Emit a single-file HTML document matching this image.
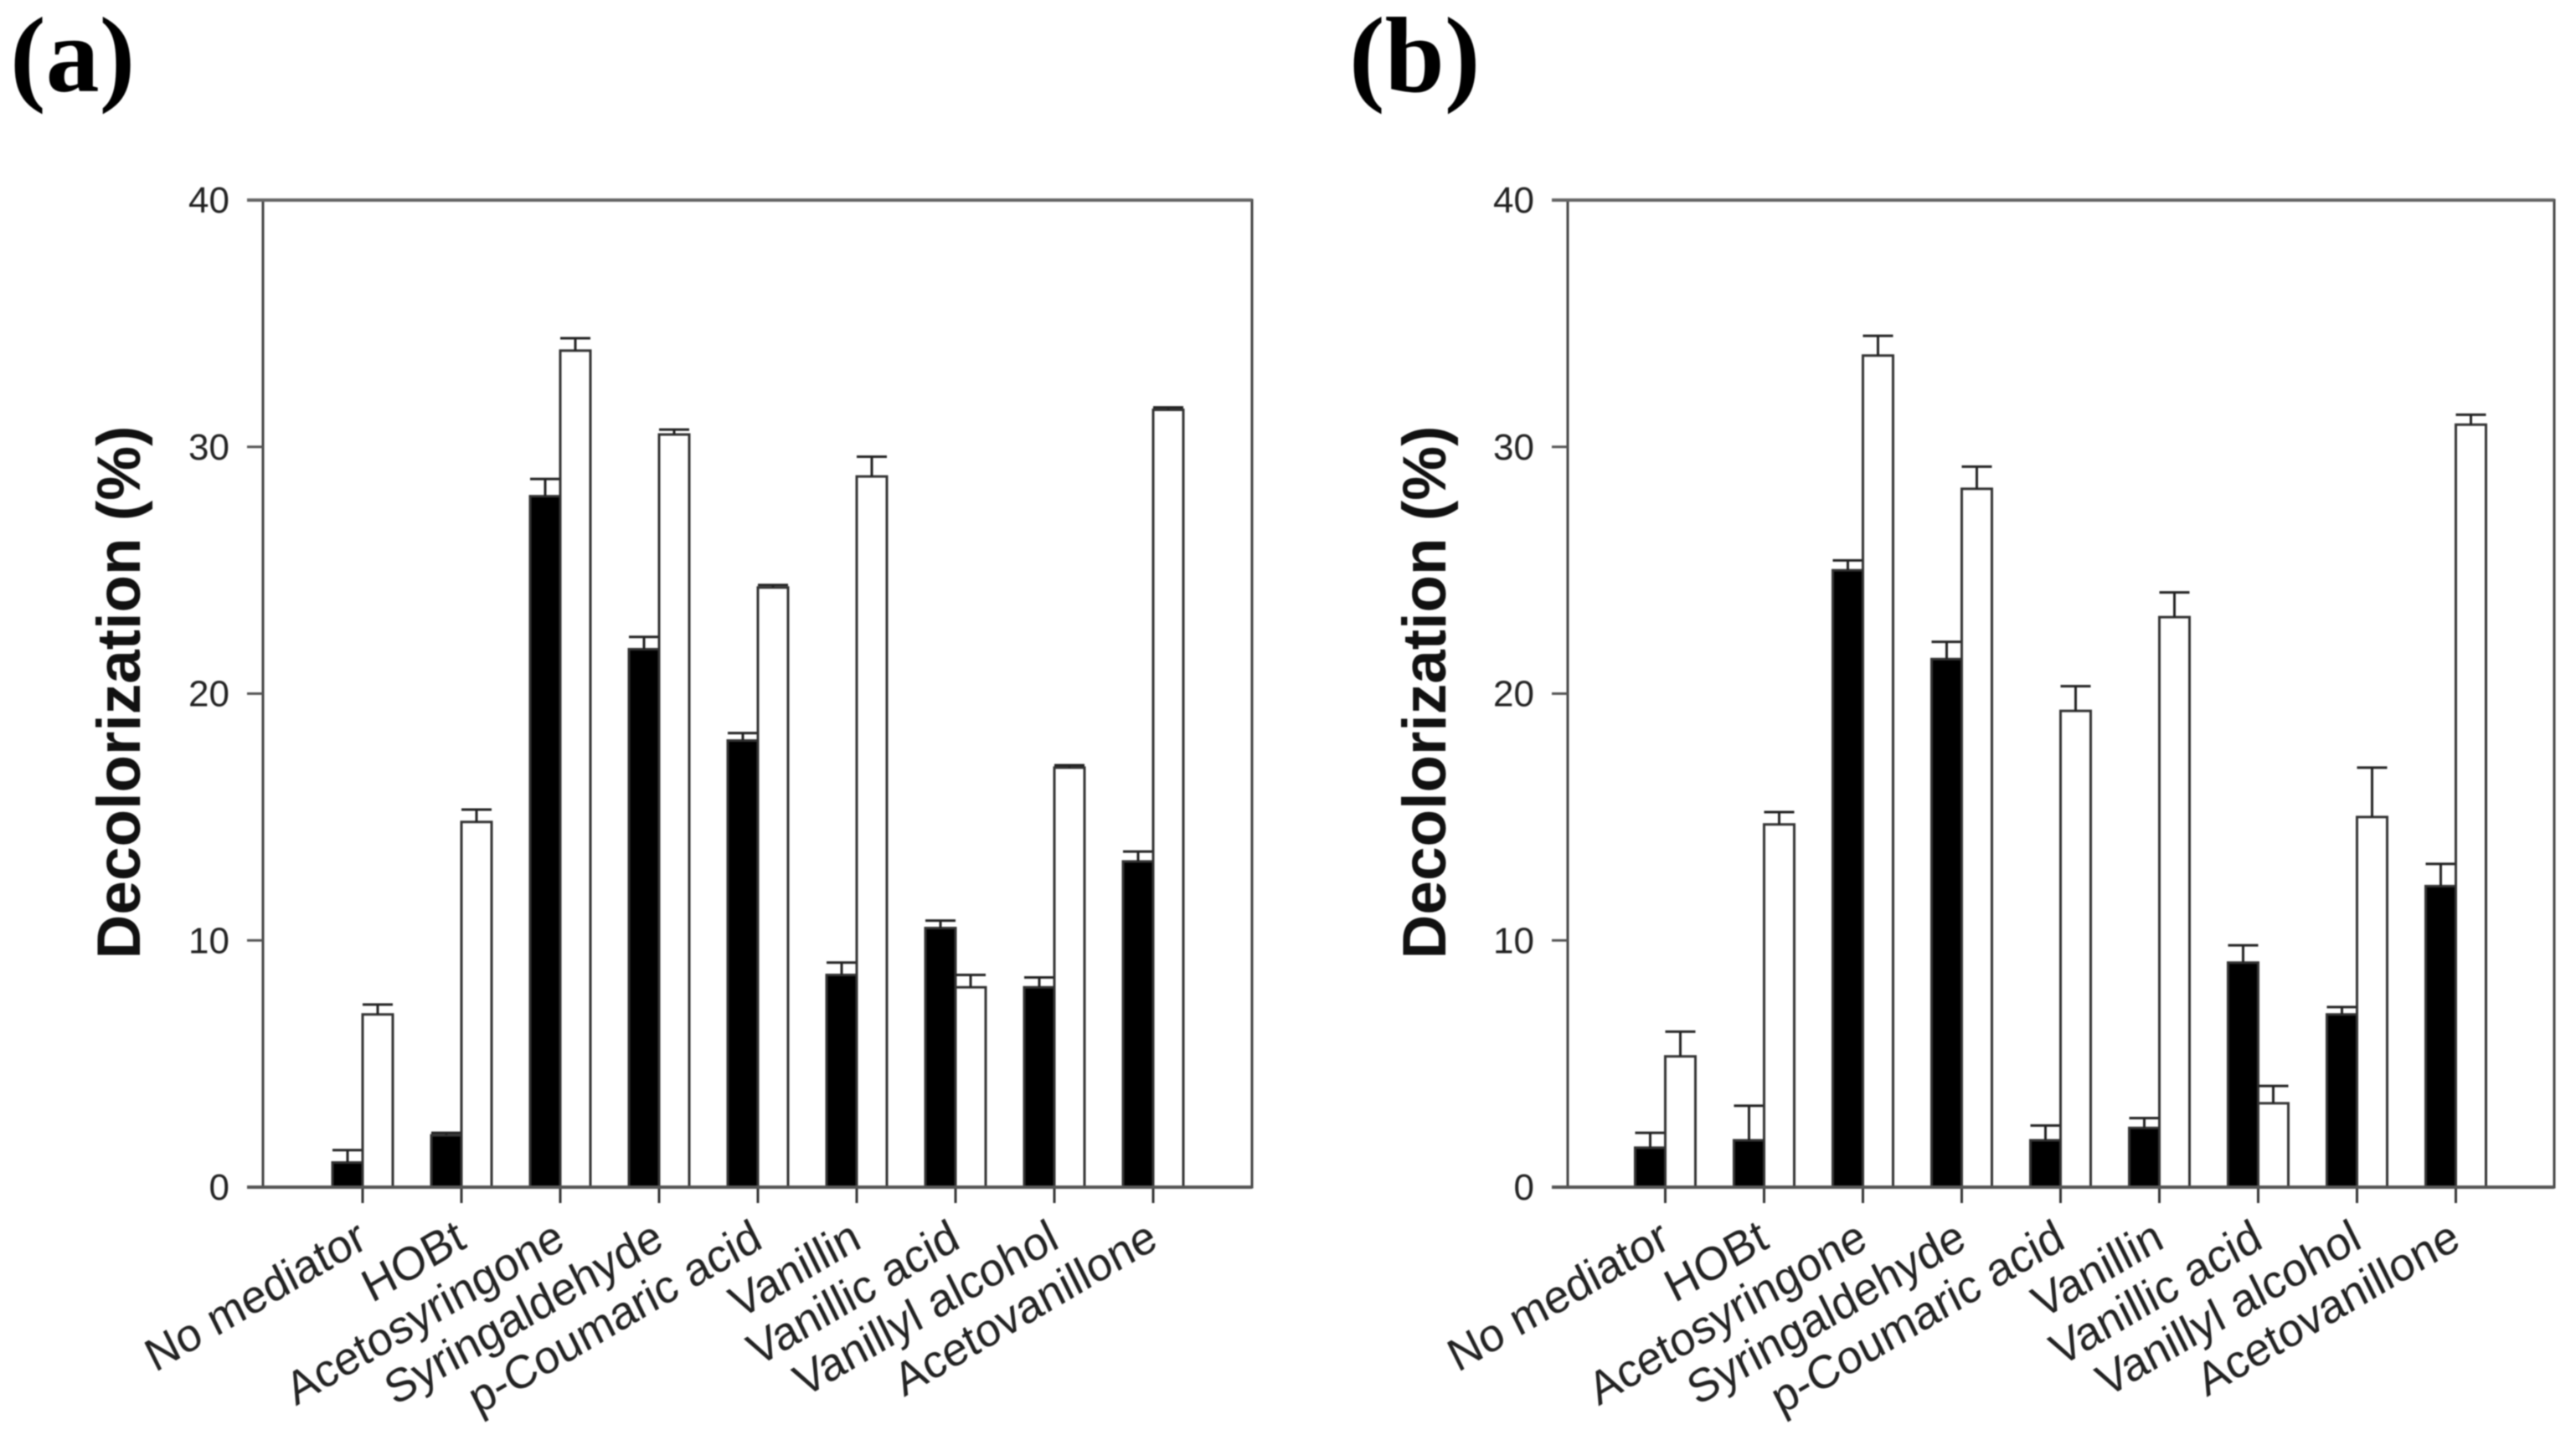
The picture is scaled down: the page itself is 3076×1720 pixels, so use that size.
<!DOCTYPE html>
<html lang="en">
<head>
<meta charset="utf-8">
<title>Decolorization by mediator</title>
<style>
html,body{margin:0;padding:0;background:#fff;width:3076px;height:1720px;overflow:hidden}
svg{display:block;filter:blur(0.9px)}
text{font-family:"Liberation Sans",sans-serif}
</style>
</head>
<body>
<svg id="figure" xmlns="http://www.w3.org/2000/svg" width="3076" height="1720" viewBox="0 0 3076 1720">
  <rect x="0" y="0" width="3076" height="1720" fill="#fff"/>
  <text x="12" y="109" font-size="128" font-weight="700" style="font-family:'Liberation Serif',serif" fill="#000">(a)</text>
  <text x="1611" y="109" font-size="128" font-weight="700" style="font-family:'Liberation Serif',serif" fill="#000">(b)</text>
  <text transform="translate(167,827) rotate(-90)" text-anchor="middle" font-size="73" font-weight="700" fill="#111">Decolorization (%)</text>
  <text transform="translate(1726,827) rotate(-90)" text-anchor="middle" font-size="73" font-weight="700" fill="#111">Decolorization (%)</text>
  <g id="panel-a"></g>
  <g id="panel-b"></g>
</svg>
<script>
const categories = ["No mediator", "HOBt", "Acetosyringone", "Syringaldehyde", "p-Coumaric acid", "Vanillin", "Vanillic acid", "Vanillyl alcohol", "Acetovanillone"];
const yTicks = [0, 10, 20, 30, 40];

const panelABlack = [1.0, 2.1, 28.0, 21.8, 18.1, 8.6, 10.5, 8.1, 13.2];
const panelABlackTop = [1.5, 2.2, 28.7, 22.3, 18.4, 9.1, 10.8, 8.5, 13.6];
const panelAWhite = [7.0, 14.8, 33.9, 30.5, 24.3, 28.8, 8.1, 17.0, 31.5];
const panelAWhiteTop = [7.4, 15.3, 34.4, 30.7, 24.4, 29.6, 8.6, 17.1, 31.6];

const panelBBlack = [1.6, 1.9, 25.0, 21.4, 1.9, 2.4, 9.1, 7.0, 12.2];
const panelBBlackTop = [2.2, 3.3, 25.4, 22.1, 2.5, 2.8, 9.8, 7.3, 13.1];
const panelBWhite = [5.3, 14.7, 33.7, 28.3, 19.3, 23.1, 3.4, 15.0, 30.9];
const panelBWhiteTop = [6.3, 15.2, 34.5, 29.2, 20.3, 24.1, 4.1, 17.0, 31.3];

const SVG_NS = "http://www.w3.org/2000/svg";
const yBottom = 1418, yTop = 239, yMax = 40;
const barWidth = 36, step = 118, tickLen = 19;

function yScale(v) {
  return yBottom - (v / yMax) * (yBottom - yTop);
}

function mk(parent, tag, attrs) {
  const el = document.createElementNS(SVG_NS, tag);
  for (const k in attrs) el.setAttribute(k, attrs[k]);
  parent.appendChild(el);
  return el;
}

function drawBar(group, x, value, top, fill, side, cat) {
  const bar = mk(group, "rect", {x: x, y: yScale(value), width: barWidth, height: yBottom - yScale(value), fill: fill, stroke: "#333", "stroke-width": 3});
  
  
  const cx = x + barWidth / 2;
  const stem = mk(group, "line", {x1: cx, x2: cx, y1: yScale(value), y2: yScale(top), stroke: "#222", "stroke-width": 3});
  
  
  const cap = mk(group, "line", {x1: cx - barWidth / 2, x2: cx + barWidth / 2, y1: yScale(top), y2: yScale(top), stroke: "#222", "stroke-width": 3});
  
  
}

function drawPanel(id, left, right, firstTick, black, blackTop, white, whiteTop) {
  const g = document.getElementById(id);

  const frame = mk(g, "rect", {x: left, y: yTop, width: right - left, height: yBottom - yTop, fill: "#fff", stroke: "#444", "stroke-width": 3});
  
  

  yTicks.forEach(function (t) {
    const y = yScale(t);
    const mark = mk(g, "line", {x1: left - tickLen, x2: left, y1: y, y2: y, stroke: "#555", "stroke-width": 3});
    
    
    const label = mk(g, "text", {x: left - 40, y: y + 15, "text-anchor": "end", "font-size": 44, fill: "#222"});
    
    
    label.textContent = t;
  });

  categories.forEach(function (c, i) {
    const x = firstTick + i * step;
    const slug = c.toLowerCase().replace(/[^a-z]+/g, '-');
    drawBar(g, x - barWidth, black[i], blackTop[i], "#000", "black", slug);
    drawBar(g, x, white[i], whiteTop[i], "#fff", "white", slug);
    const mark = mk(g, "line", {x1: x, x2: x, y1: yBottom, y2: yBottom + tickLen, stroke: "#333", "stroke-width": 3});
    
    
    const lx = x + 8, ly = 1489;
    const label = mk(g, "text", {transform: "translate(" + lx + "," + ly + ") rotate(-30.5) skewX(-4)", "text-anchor": "end", "font-size": 54.5, fill: "#222"});
    
    
    label.textContent = c;
  });

  const top = mk(g, "line", {x1: left - tickLen, x2: right, y1: yTop, y2: yTop, stroke: "#666", "stroke-width": 4});
  
  
  const base = mk(g, "line", {x1: left - tickLen, x2: right, y1: yBottom, y2: yBottom, stroke: "#555", "stroke-width": 4});
  
  
}

drawPanel("panel-a", 314, 1495, 433, panelABlack, panelABlackTop, panelAWhite, panelAWhiteTop);
drawPanel("panel-b", 1872, 3050, 1988.5, panelBBlack, panelBBlackTop, panelBWhite, panelBWhiteTop);
</script>
</body>
</html>
